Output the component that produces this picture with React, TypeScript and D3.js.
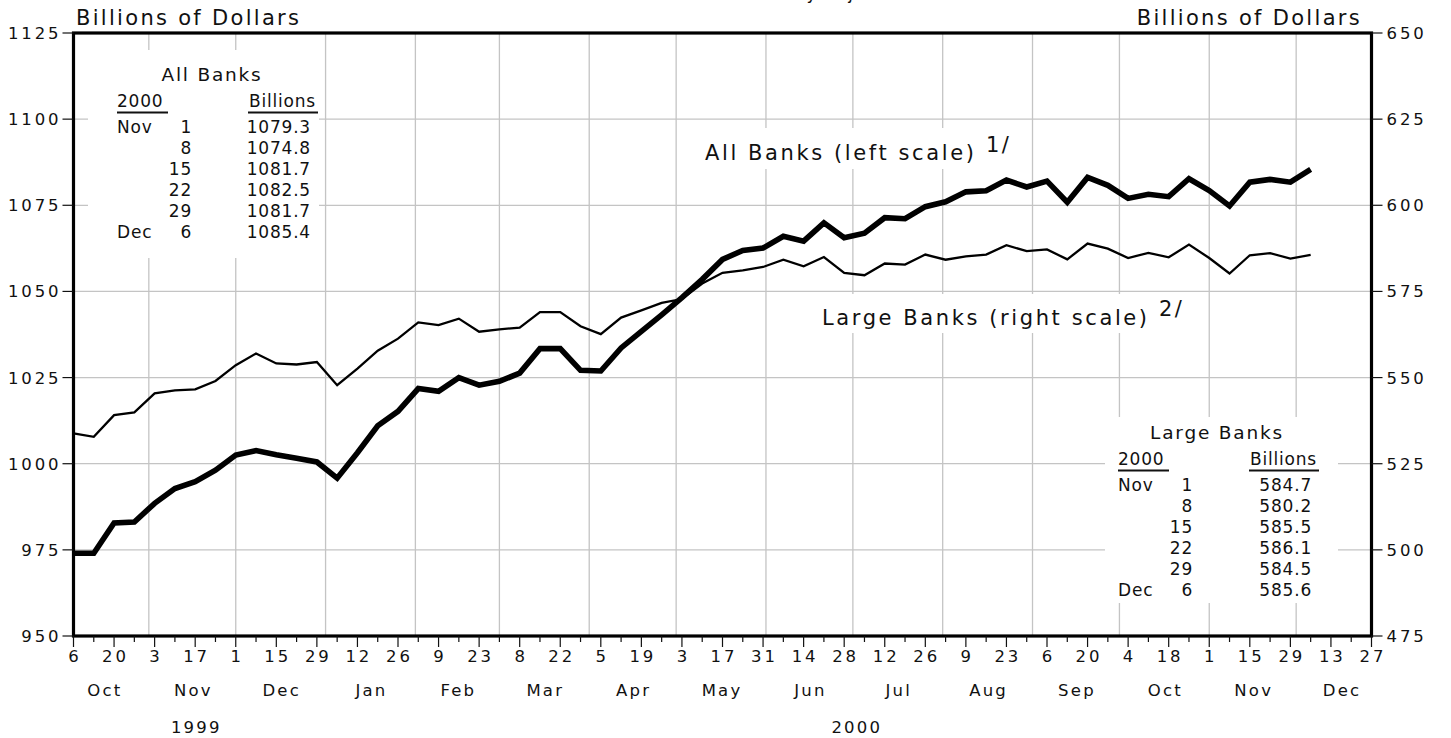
import React from "react";
import * as d3 from "d3";

// ---------- data ----------
const firstWeek = Date.UTC(1999, 9, 6); // Wed Oct 6 1999
const axisEnd = Date.UTC(2000, 11, 27);

const allBanks = [
  974.0, 974.0, 982.8, 983.1, 988.5, 992.8, 994.8, 998.1, 1002.5, 1003.8,
  1002.6, 1001.6, 1000.5, 995.8, 1003.2, 1011.0, 1015.2, 1021.8, 1021.0, 1025.0,
  1022.8, 1023.9, 1026.3, 1033.4, 1033.4, 1027.1, 1026.9, 1033.6, 1038.4, 1043.2,
  1048.2, 1053.5, 1059.3, 1061.9, 1062.6, 1066.0, 1064.6, 1069.9, 1065.6, 1066.9,
  1071.4, 1071.1, 1074.6, 1076.0, 1078.9, 1079.2, 1082.3, 1080.3, 1082.0, 1075.9,
  1083.1, 1080.8, 1077.0, 1078.2, 1077.5, 1082.7, 1079.3, 1074.8, 1081.7, 1082.5,
  1081.7, 1085.4,
];

const largeBanks = [
  533.8, 532.8, 539.1, 539.9, 545.4, 546.3, 546.6, 549.0, 553.6, 557.0,
  554.1, 553.8, 554.5, 547.8, 552.6, 557.8, 561.3, 566.0, 565.2, 567.1,
  563.3, 564.0, 564.5, 569.0, 569.0, 564.9, 562.6, 567.4, 569.5, 571.7,
  572.8, 577.3, 580.4, 581.1, 582.1, 584.2, 582.3, 585.0, 580.4, 579.7,
  583.1, 582.8, 585.7, 584.2, 585.2, 585.7, 588.4, 586.7, 587.2, 584.3,
  588.9, 587.4, 584.7, 586.2, 584.9, 588.6, 584.7, 580.2, 585.5, 586.1,
  584.5, 585.6,
];

const leftTicks = [950, 975, 1000, 1025, 1050, 1075, 1100, 1125];
const rightTicks = [475, 500, 525, 550, 575, 600, 625, 650];
const yearLabels = ["1999", "2000"];

const allBanksTable = [
  ["Nov", "1", "1079.3"],
  ["", "8", "1074.8"],
  ["", "15", "1081.7"],
  ["", "22", "1082.5"],
  ["", "29", "1081.7"],
  ["Dec", "6", "1085.4"],
];
const largeBanksTable = [
  ["Nov", "1", "584.7"],
  ["", "8", "580.2"],
  ["", "15", "585.5"],
  ["", "22", "586.1"],
  ["", "29", "584.5"],
  ["Dec", "6", "585.6"],
];

// ---------- layout ----------
const W = 1451;
const H = 738;
const L = 73.5;
const R = 1371.5;
const T = 33;
const B = 636;
const FONT = "DejaVu Sans";
const INK = "#111";
const GRID = "#c4c4c4";

const DAY = 86400000;

function Table({ left, top, titleX, title, rows }) {
  const rowY = (i) => top + 52 + i * 20.9;
  const ts = { fontFamily: FONT, fontSize: 17, fill: INK, letterSpacing: 0.8 };
  return (
    <g>
      <text x={titleX} y={top} textAnchor="middle" {...ts} fontSize={18.5} letterSpacing={1.8}>
        {title}
      </text>
      <text x={left} y={top + 25.5} {...ts}>2000</text>
      <text x={left + 132} y={top + 25.5} {...ts}>Billions</text>
      <line x1={left} x2={left + 51} y1={top + 31.5} y2={top + 31.5} stroke={INK} strokeWidth={2} />
      <line x1={left + 131} x2={left + 201} y1={top + 31.5} y2={top + 31.5} stroke={INK} strokeWidth={2} />
      {rows.map((r, i) => (
        <g key={i}>
          <text x={left} y={rowY(i)} {...ts}>{r[0]}</text>
          <text x={left + 75} y={rowY(i)} textAnchor="end" {...ts}>{r[1]}</text>
          <text x={left + 194} y={rowY(i)} textAnchor="end" {...ts}>{r[2]}</text>
        </g>
      ))}
    </g>
  );
}

export default function App() {
  const x = d3.scaleUtc().domain([new Date(firstWeek), new Date(axisEnd)]).range([L, R]);
  const yL = d3.scaleLinear().domain([950, 1125]).range([B, T]);
  const yR = d3.scaleLinear().domain([475, 650]).range([B, T]);

  const dates = allBanks.map((_, i) => new Date(firstWeek + i * 7 * DAY));
  const nWeeks = Math.round((axisEnd - firstWeek) / (7 * DAY));
  const weekTicks = d3.range(nWeeks + 1).map((k) => new Date(firstWeek + k * 7 * DAY));

  const monthGrid = d3.utcMonth.range(new Date(Date.UTC(1999, 10, 1)), new Date(Date.UTC(2000, 11, 2)));
  const months = d3.utcMonth.range(new Date(Date.UTC(1999, 9, 1)), new Date(Date.UTC(2001, 0, 1)));
  const fmtMonth = d3.utcFormat("%b");

  const lineL = d3.line<number>().x((_, i) => x(dates[i])).y((d) => yL(d));
  const lineR = d3.line<number>().x((_, i) => x(dates[i])).y((d) => yR(d));

  const yearPos = [
    (x(new Date(Date.UTC(1999, 9, 1))) + x(new Date(Date.UTC(2000, 0, 1)))) / 2 + 3,
    (x(new Date(Date.UTC(2000, 0, 1))) + x(new Date(Date.UTC(2001, 0, 1)))) / 2,
  ];

  const tick = { fontFamily: FONT, fontSize: 16.5, fill: INK, letterSpacing: 2.9 };
  const big = { fontFamily: FONT, fontSize: 21, fill: INK, letterSpacing: 2.3 };

  return (
    <svg
      width={W}
      height={H}
      style={{ position: "absolute", left: 0, top: 0, background: "#fff" }}
    >
      <rect x={0} y={0} width={W} height={H} fill="#fff" />

      {/* title above the frame, cut off by the top edge */}
      <text x={716} y={-0.8} fontFamily={FONT} fontSize={17} letterSpacing={1} fill={INK}>
        Seasonally Adjusted
      </text>

      {/* grid */}
      {leftTicks.slice(1, -1).map((v) => (
        <line key={v} x1={L} x2={R} y1={yL(v)} y2={yL(v)} stroke={GRID} strokeWidth={1.3} />
      ))}
      {monthGrid.map((d) => (
        <line key={+d} x1={x(d)} x2={x(d)} y1={T} y2={B} stroke={GRID} strokeWidth={1.3} />
      ))}

      {/* white boxes behind annotations */}
      <rect x={88} y={50} width={231} height={208} fill="#fff" />
      <rect x={1105} y={417} width={233} height={186} fill="#fff" />
      <rect x={698} y={128} width={322} height={41} fill="#fff" />
      <rect x={815} y={294} width={375} height={39} fill="#fff" />

      {/* series */}
      <path d={lineR(largeBanks) || ""} fill="none" stroke="#000" strokeWidth={2.3} strokeLinejoin="miter" />
      <path d={lineL(allBanks) || ""} fill="none" stroke="#000" strokeWidth={5.6} strokeLinejoin="miter" />

      {/* frame */}
      <rect x={L} y={T} width={R - L} height={B - T} fill="none" stroke="#000" strokeWidth={3.2} />

      {/* left axis */}
      {leftTicks.map((v) => (
        <g key={v}>
          <line x1={L - 11} x2={L} y1={yL(v)} y2={yL(v)} stroke={INK} strokeWidth={1.2} />
          <text x={L - 12} y={yL(v) + 6} textAnchor="end" {...tick}>{v}</text>
        </g>
      ))}
      {/* right axis */}
      {rightTicks.map((v) => (
        <g key={v}>
          <line x1={R} x2={R + 11} y1={yR(v)} y2={yR(v)} stroke={INK} strokeWidth={1.2} />
          <text x={R + 15} y={yR(v) + 6} {...tick}>{v}</text>
        </g>
      ))}

      {/* bottom axis */}
      {weekTicks.map((d, k) => (
        <g key={k}>
          <line x1={x(d)} x2={x(d)} y1={B} y2={B + (k % 2 === 0 ? 11 : 6)} stroke={INK} strokeWidth={1.2} />
          {k % 2 === 0 && (
            <text x={x(d) + 1.4} y={B + 26} textAnchor="middle" {...tick}>
              {d.getUTCDate()}
            </text>
          )}
        </g>
      ))}
      {months.map((m) => {
        const next = d3.utcMonth.offset(m, 1);
        const cx = (x(m) + x(next)) / 2;
        return (
          <text key={+m} x={cx + 1} y={B + 60} textAnchor="middle" {...tick} letterSpacing={2.2}>
            {fmtMonth(m)}
          </text>
        );
      })}
      {yearLabels.map((yl, i) => (
        <text key={yl} x={yearPos[i] + 1} y={B + 97} textAnchor="middle" {...tick} letterSpacing={2.2}>
          {yl}
        </text>
      ))}

      {/* axis titles */}
      <text x={76} y={25} {...big}>Billions of Dollars</text>
      <text x={1362} y={25} textAnchor="end" {...big}>Billions of Dollars</text>

      {/* series labels */}
      <text x={705} y={160} {...big} letterSpacing={2.6}>All Banks (left scale)</text>
      <text x={986} y={152} {...big}>1/</text>
      <text x={822} y={325} {...big} letterSpacing={2.6}>Large Banks (right scale)</text>
      <text x={1159} y={316} {...big}>2/</text>

      {/* tables */}
      <Table left={117} top={81} titleX={212} title="All Banks" rows={allBanksTable} />
      <Table left={1118} top={439} titleX={1217} title="Large Banks" rows={largeBanksTable} />
    </svg>
  );
}
